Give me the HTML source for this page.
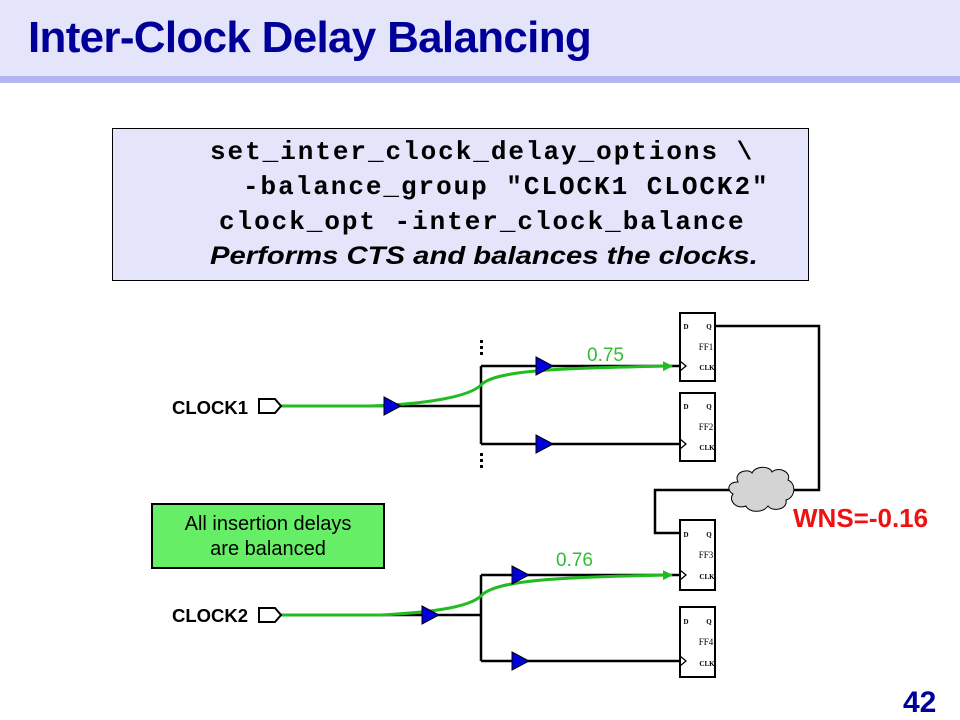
<!DOCTYPE html>
<html><head><meta charset="utf-8"><style>
body{margin:0;width:960px;height:720px;background:#fff;overflow:hidden;position:relative;font-family:"Liberation Sans",sans-serif}
.hdr{position:absolute;left:0;top:0;width:960px;height:76px;background:#e4e4fb}
.bar{position:absolute;left:0;top:76px;width:960px;height:7px;background:#b4b4f4}
.title{position:absolute;left:28px;top:13px;font-weight:bold;font-size:44px;color:#000099;letter-spacing:-0.7px;white-space:nowrap}
.box{position:absolute;left:112px;top:128px;width:695px;height:151px;background:#e4e4fb;border:1px solid #000}
.m{position:absolute;font-family:"Liberation Mono",monospace;font-weight:bold;font-size:26px;letter-spacing:1.95px;white-space:pre}
</style></head><body>
<div class="hdr"></div><div class="bar"></div>
<div class="title">Inter-Clock Delay Balancing</div>
<div class="box"></div>
<div class="m" style="left:210px;top:137px">set_inter_clock_delay_options \</div>
<div class="m" style="left:243px;top:172px">-balance_group "CLOCK1 CLOCK2"</div>
<div class="m" style="left:219px;top:207px">clock_opt -inter_clock_balance</div>
<div style="position:absolute;left:210px;top:242px;font-weight:bold;font-style:italic;font-size:25px;transform:scaleX(1.17);transform-origin:0 0;white-space:nowrap">Performs CTS and balances the clocks.</div>
<svg width="960" height="720" style="position:absolute;left:0;top:0" font-family="Liberation Serif,serif">
<defs><marker id="ga" markerWidth="10" markerHeight="10" refX="9" refY="5" orient="auto" markerUnits="userSpaceOnUse"><path d="M0,0 L10,5 L0,10z" fill="#22bb22"/></marker></defs>
<g stroke="#000" stroke-width="2.5" fill="none">
<path d="M280,406 H481 M481,366 V444 M481,366 H680 M481,444 H680"/>
<path d="M280,615 H481 M481,575 V661 M481,575 H680 M481,661 H680"/>
<path d="M715,326 H819 V490 H793 M731,490 H655 V533 H680"/>
</g>
<g fill="#fff" stroke="#000" stroke-width="2">
<path d="M259,399 H275 L281,406 L275,413 H259z"/>
<path d="M259,608 H275 L281,615 L275,622 H259z"/>
<rect x="680" y="313" width="35" height="68"/>
<rect x="680" y="393" width="35" height="68"/>
<rect x="680" y="520" width="35" height="70"/>
<rect x="680" y="607" width="35" height="70"/>
</g>
<g fill="none" stroke="#000" stroke-width="1.3">
<path d="M680,361 L686,366 L680,371 M680,439 L686,444 L680,449 M680,570 L686,575 L680,580 M680,656 L686,661 L680,666"/>
</g>
<g fill="#000" font-size="7" font-weight="bold" text-anchor="middle">
<text x="686" y="329">D</text><text x="709" y="329">Q</text><text x="707" y="370">CLK</text>
<text x="686" y="409">D</text><text x="709" y="409">Q</text><text x="707" y="450">CLK</text>
<text x="686" y="537">D</text><text x="709" y="537">Q</text><text x="707" y="579">CLK</text>
<text x="686" y="624">D</text><text x="709" y="624">Q</text><text x="707" y="666">CLK</text>
</g>
<g fill="#000" font-size="9" text-anchor="middle"><text x="706" y="350">FF1</text><text x="706" y="430">FF2</text><text x="706" y="558">FF3</text><text x="706" y="645">FF4</text></g>
<g fill="none" stroke="#22bb22" stroke-width="3">
<path d="M282,406 H370 C430,404 470,396 481,385 C495,370 560,368 672,366" marker-end="url(#ga)"/>
<path d="M282,615 H380 C440,612 470,606 481,596 C495,580 560,577 672,575" marker-end="url(#ga)"/>
</g>
<g fill="#0000dd" stroke="#000" stroke-width="1">
<path d="M384,397 L401,406 L384,415z"/>
<path d="M536,357 L553,366 L536,375z"/><path d="M536,435 L553,444 L536,453z"/>
<path d="M422,606 L439,615 L422,624z"/>
<path d="M512,566 L529,575 L512,584z"/><path d="M512,652 L529,661 L512,670z"/>
</g>
<g fill="#000"><rect x="480" y="340" width="3" height="3"/><rect x="480" y="346" width="3" height="3"/><rect x="480" y="352" width="3" height="3"/>
<rect x="480" y="453" width="3" height="3"/><rect x="480" y="459" width="3" height="3"/><rect x="480" y="465" width="3" height="3"/></g>
<path d="M738,482 C733,472 748,468 752,473 C756,465 770,466 772,472 C778,466 792,472 788,480 C797,484 795,498 786,500 C788,510 772,512 768,506 C762,514 748,512 746,506 C736,510 728,500 733,494 C726,490 728,482 738,482z" fill="#d4d4d4" stroke="#000" stroke-width="1"/>
<g font-family="Liberation Sans,sans-serif">
<text x="587" y="361" font-size="19" fill="#33bb33">0.75</text>
<text x="556" y="566" font-size="19" fill="#33bb33">0.76</text>
<text x="172" y="414" font-size="18.5" font-weight="bold">CLOCK1</text>
<text x="172" y="622" font-size="18.5" font-weight="bold">CLOCK2</text>
<text x="793" y="527" font-size="26" font-weight="bold" fill="#ee1111">WNS=-0.16</text>
<text x="903" y="712" font-size="30" font-weight="bold" fill="#000099">42</text>
</g>
<rect x="152" y="504" width="232" height="64" fill="#66ee66" stroke="#000" stroke-width="2"/>
<text x="268" y="530" font-family="Liberation Sans,sans-serif" font-size="20" text-anchor="middle">All insertion delays</text>
<text x="268" y="555" font-family="Liberation Sans,sans-serif" font-size="20" text-anchor="middle">are balanced</text>
</svg>
</body></html>
